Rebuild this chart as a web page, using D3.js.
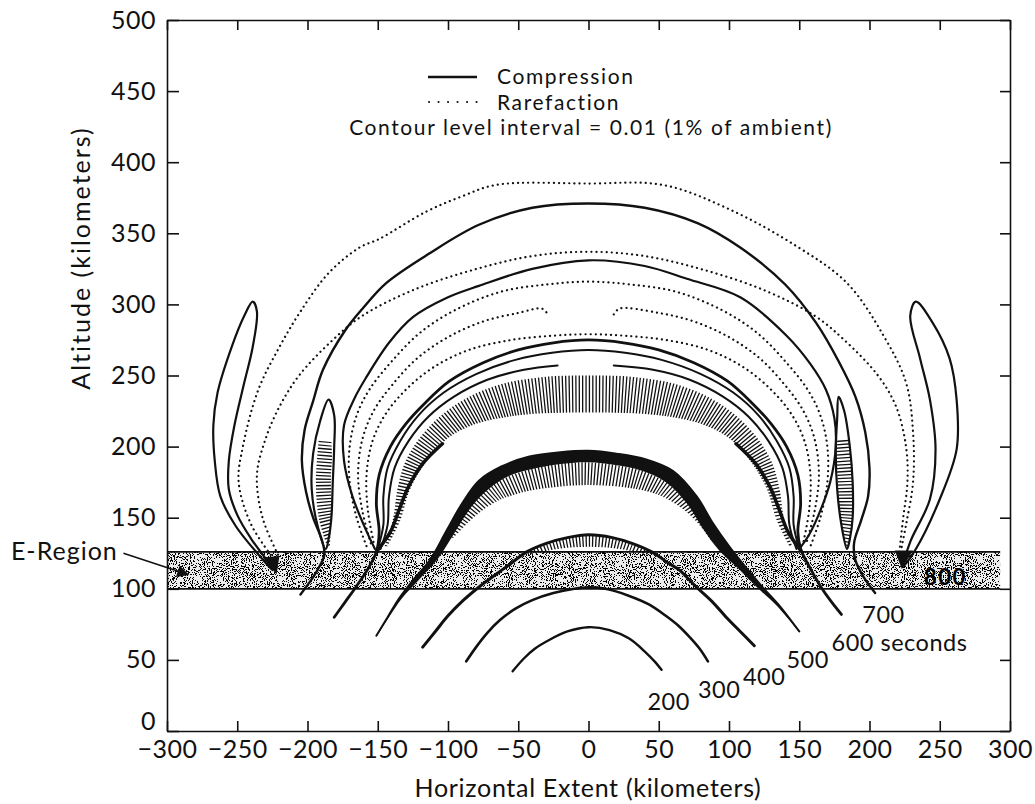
<!DOCTYPE html>
<html>
<head>
<meta charset="utf-8">
<script src="https://cdn.jsdelivr.net/npm/d3@7"></script>
<style>
  body { margin: 0; background: #fff; }
  svg { display: block; font-family: Lato, "Open Sans", sans-serif; }
  .axis text { font-size: 25px; fill: #111; font-family: Lato, "Open Sans", sans-serif; letter-spacing: 0.5px; }
  .axis path, .axis line { stroke: #111; stroke-width: 1.6; }
</style>
</head>
<body>
<script>
// tick values (km)
const xTicks = [-300, -250, -200, -150, -100, -50, 0, 50, 100, 150, 200, 250, 300];
const yTicks = [0, 50, 100, 150, 200, 250, 300, 350, 400, 450, 500];

// E-region layer (km): left, right, bottom, top
const eRegion = [-300, 293, 100, 126];

// wavefronts below / through the E-region, [horizontal km, altitude km]
const wave200 = [[-54,42],[-46,51],[-38,58],[-28,64],[-15,70],[0,73],[15,71],[29,65],[41,55],[47,49],[52,43]];
const wave300 = [[-87,49],[-80,59],[-72,69],[-63,78],[-52,86],[-40,92],[-25,97],[-10,100],[0,101],[12,100],[29,95],[43,89],[55,81],[64,74],[72,66],[79,58],[85,49]];
const wave400 = [[-118,59],[-109,70],[-100,81],[-89,92],[-77,102],[-66,110],[-55,118],[-44,126],[-30,132],[-15,136],[0,138],[17,136],[31,132],[45,126],[57,118],[65,113],[76,102],[88,91],[98,80],[108,70],[118,60]];
const wave500 = [[-151,67],[-143,80],[-135,93],[-125,106],[-113,120],[-101,141],[-90,160],[-78,176],[-62,186],[-42,193],[-20,196],[0,197],[20,195],[41,191],[60,183],[77,165],[88,147],[100,130],[112,115],[124,101],[136,88],[150,70]];
const wave500Inner = [[-150.5,67],[-142,80],[-133,93],[-121,106],[-108,120],[-95,140],[-83,158],[-70,171],[-55,180],[-37,185],[-18,188],[0,189],[19,187],[38,183],[55,175],[70,160],[81,143],[93,127],[107,114],[121,100],[134,88],[149.5,70]];

// 600 s bundle
const wave600a = [[-181,80],[-173,91],[-165,102],[-157,114],[-151,126],[-149,140],[-151,160],[-149,180],[-141,200],[-130,216],[-117,230],[-99,246],[-75,259],[-50,268],[-25,273],[0,275],[25,273],[50,268],[75,259],[99,246],[117,230],[130,216],[141,200],[149,180],[151,160],[149,140],[151,128],[158,114],[165,102],[172,92],[180,82]];
const wave600b = [[-150,128],[-146,145],[-146,165],[-143,185],[-134,204],[-121,222],[-103,238],[-80,251],[-52,261],[-26,266],[0,268],[26,266],[52,261],[80,251],[103,238],[121,222],[134,204],[143,185],[146,165],[146,145],[150,128]];
const wave600cLeft = [[-148,128],[-143,145],[-142,165],[-138,185],[-128,204],[-114,221],[-96,235],[-72,247],[-46,254],[-22,257]];
const wave600cRight = [[18,257],[46,254],[72,247],[96,235],[114,221],[128,204],[138,185],[142,165],[143,145],[148,128]];
const wave600Foot = [[-151,126],[-141,140],[-135,155],[-128,172],[-118,188],[-104,202]];
const wave600FootR = [[151,127],[142,140],[136,155],[129,172],[119,188],[105,202]];

// 700 s front and inner solid
const wave700 = [[-205,96],[-199,104],[-193,113],[-188,124],[-190,135],[-196,150],[-201,168],[-204,190],[-202,212],[-196,232],[-189,254],[-173,282],[-160,298],[-144,315],[-113,336],[-78,356],[-40,368],[0,371],[40,368],[78,357],[108,340],[140,314],[162,287],[178,260],[190,235],[197,210],[200,185],[199,165],[194,148],[189,132],[190,120],[196,108],[204,97]];
const inner331 = [[-152,128],[-160,145],[-168,165],[-174,190],[-174,215],[-166,235],[-158,249],[-142,273],[-125,291],[-100,305],[-78,313],[-40,325],[0,331],[40,327],[70,318],[108,305],[141,278],[158,258],[169,240],[175,220],[176,200],[172,175],[165,155],[157,138],[150,128]];

// closed side lobes
const lobe700L = [[-187,128],[-193,145],[-197,170],[-196,195],[-191,218],[-185,233],[-181,222],[-181,200],[-182,175],[-183,150],[-185,135]];
const lobe700R = [[184,128],[180,145],[177,170],[176,198],[177,220],[178,235],[182,225],[186,200],[188,175],[188,150],[186,135]];
const lobe800L = [[-225,113],[-234,123],[-251,144],[-262,165],[-266,190],[-267,215],[-264,238],[-254,270],[-245,292],[-239,302],[-236,295],[-239,270],[-245,245],[-252,215],[-256,190],[-256,170],[-250,152],[-240,135],[-229,120]];
const lobe800R = [[224,116],[233,128],[250,163],[262,198],[262,233],[257,262],[245,287],[233,302],[229,292],[236,262],[243,233],[247,198],[243,163],[229,133]];

// rarefaction contours
const rare385 = [[-224,121],[-240,145],[-249,175],[-246,200],[-235,240],[-220,270],[-205,295],[-185,322],[-163,340],[-149,346],[-116,365],[-90,376],[-66,384],[0,385],[53,384],[100,367],[148,341],[184,315],[210,278],[226,245],[231,210],[231,175],[226,145],[222,125]];
const rare337 = [[-221,124],[-232,150],[-236,180],[-230,205],[-220,228],[-206,250],[-182,275],[-161,292],[-125,310],[-83,324],[-40,334],[0,337],[40,334],[83,324],[125,310],[161,292],[182,275],[206,250],[219,228],[226,200],[227,175],[224,150],[221,124]];
const rare316 = [[-158,130],[-165,150],[-170,175],[-170,200],[-165,222],[-156,240],[-140,260],[-120,280],[-95,296],[-62,309],[-30,314],[0,316],[30,314],[62,309],[95,296],[120,280],[140,260],[156,240],[165,222],[170,200],[170,175],[165,150],[158,130]];
const rare297L = [[-155,132],[-161,155],[-164,180],[-161,205],[-153,225],[-140,243],[-122,262],[-100,277],[-75,288],[-50,294],[-33,297],[-29,293]];
const rare297R = [[18,293],[22,297],[50,294],[75,288],[100,277],[122,262],[140,243],[153,225],[161,205],[164,180],[161,155],[155,132]];
const rare279 = [[-153,133],[-157,155],[-158,180],[-154,203],[-145,222],[-130,240],[-110,256],[-85,268],[-55,275],[-25,278],[0,279],[25,278],[55,275],[85,268],[110,256],[130,240],[145,222],[154,203],[158,180],[157,155],[153,133]];

// hatched (closely packed) rarefaction bands: outer edge, inner edge
const band600Outer = [[-145,130],[-139,150],[-136,170],[-131,188],[-121,205],[-106,221],[-87,234],[-62,244],[-32,249],[0,250],[32,249],[62,244],[87,234],[106,221],[121,205],[131,188],[136,170],[139,150],[145,130]];
const band600Inner = [[-143,130],[-134,148],[-127,170],[-115,190],[-100,206],[-80,216],[-50,222],[0,224],[50,222],[80,216],[100,206],[115,190],[127,170],[134,148],[143,130]];
const band500Outer = [[-100,135],[-90,150],[-80,162],[-68,173],[-52,181],[-34,186],[-16,188.5],[0,189],[19,187],[38,183],[55,175],[68,163],[79,148],[90,132]];
const band500Inner = [[-96,136],[-82,150],[-68,160],[-50,167],[-28,171],[0,173],[28,171],[50,166],[66,157],[78,146],[88,133]];
const band400Outer = [[-46,125],[-30,132],[-15,136],[0,137.5],[17,136],[31,132],[46,125]];
const band400Inner = [[-42,124],[-22,128],[0,129.5],[22,128],[42,124]];
const band700LOuter = [[-186,130],[-192,150],[-194,175],[-192,205]];
const band700LInner = [[-184,130],[-183,150],[-182,175],[-183,205]];
const band700ROuter = [[185,130],[188,150],[188,175],[186,205]];
const band700RInner = [[183,130],[179,150],[177,175],[177,205]];

// arrowheads inside the E-region
const notchL = [[-232,122],[-220,123],[-222,110]];
const notchR = [[218,127],[231,127],[223,114]];

// time labels (seconds) at [km, km]
const timeLabels = [
  {text: '200', at: [57, 15], anchor: 'middle'},
  {text: '300', at: [93, 23], anchor: 'middle'},
  {text: '400', at: [125, 32], anchor: 'middle'},
  {text: '500', at: [156, 44], anchor: 'middle'},
  {text: '600 seconds', at: [173, 56], anchor: 'start'},
  {text: '700', at: [210, 76], anchor: 'middle'}
];
const label800 = {text: '800', at: [254, 103]};
const eRegionLabel = {text: 'E-Region', at: [-335, 120], arrowFrom: [-331, 125], arrowTo: [-285, 110]};

const W = 1035, H = 804;
const svg = d3.select('body').append('svg').attr('width', W).attr('height', H);

const x = d3.scaleLinear().domain([-300, 300]).range([167, 1010]);
const y = d3.scaleLinear().domain([0, 500]).range([731, 20]);

const line = d3.line().x(d => x(d[0])).y(d => y(d[1])).curve(d3.curveCatmullRom.alpha(0.5));
const loop = d3.line().x(d => x(d[0])).y(d => y(d[1])).curve(d3.curveCatmullRomClosed.alpha(0.5));
const region = (a, b) => line(a) + line(b.slice().reverse()).replace(/^M/, 'L') + 'Z';

const defs = svg.append('defs');

// stippled fill for the E-region
const st = defs.append('filter').attr('id', 'stipple')
  .attr('x', 0).attr('y', 0).attr('width', 1).attr('height', 1)
  .attr('color-interpolation-filters', 'sRGB');
st.append('feTurbulence').attr('type', 'fractalNoise').attr('baseFrequency', 0.95)
  .attr('numOctaves', 2).attr('seed', 4).attr('result', 'noise');
st.append('feColorMatrix').attr('in', 'noise').attr('type', 'matrix')
  .attr('values', '0 0 0 0 0  0 0 0 0 0  0 0 0 0 0  -3 0 0 0 1.82').attr('result', 'dots');
st.append('feComponentTransfer').attr('in', 'dots').attr('result', 'bin')
  .append('feFuncA').attr('type', 'discrete').attr('tableValues', '0 1');
st.append('feComposite').attr('in', 'bin').attr('in2', 'SourceGraphic').attr('operator', 'in');

const [eL, eR, eB, eT] = eRegion;
svg.append('rect')
  .attr('x', x(eL)).attr('y', y(eT)).attr('width', x(eR) - x(eL)).attr('height', y(eB) - y(eT))
  .attr('fill', '#ececec');
svg.append('rect')
  .attr('x', x(eL)).attr('y', y(eT)).attr('width', x(eR) - x(eL)).attr('height', y(eB) - y(eT))
  .attr('fill', '#000').attr('filter', 'url(#stipple)');
[eB, eT].forEach(v => {
  svg.append('line').attr('x1', x(eL)).attr('x2', x(eR)).attr('y1', y(v)).attr('y2', y(v))
    .attr('stroke', '#111').attr('stroke-width', 1.8);
});

const marks = svg.append('g');

// hatched bands: thick dashed stroke along the outer edge, clipped to the band
let clipId = 0;
function hatch(outer, inner, width) {
  const id = 'band' + (clipId++);
  defs.append('clipPath').attr('id', id).append('path').attr('d', region(outer, inner));
  marks.append('path').attr('d', line(outer))
    .attr('fill', 'none').attr('stroke', '#111').attr('stroke-width', width)
    .attr('stroke-dasharray', '1.3 2.1').attr('clip-path', `url(#${id})`);
}
hatch(band600Outer, band600Inner, 80);
hatch(band500Outer, band500Inner, 50);
hatch(band400Outer, band400Inner, 30);
hatch(band700LOuter, band700LInner, 30);
hatch(band700ROuter, band700RInner, 30);

// rarefaction (dotted)
const dotted = [rare385, rare337, rare316, rare297L, rare297R, rare279];
marks.selectAll('path.rare').data(dotted).enter().append('path')
  .attr('class', 'rare').attr('d', line)
  .attr('fill', 'none').attr('stroke', '#111').attr('stroke-width', 2.2)
  .attr('stroke-linecap', 'round').attr('stroke-dasharray', '0.1 5');

// compression (solid)
const solid = [
  {pts: wave200, w: 2.4}, {pts: wave300, w: 2.6}, {pts: wave400, w: 3},
  {pts: wave500, w: 2}, {pts: wave600a, w: 2.8}, {pts: wave600b, w: 2},
  {pts: wave600cLeft, w: 2}, {pts: wave600cRight, w: 2},
  {pts: wave600Foot, w: 3.5}, {pts: wave600FootR, w: 3.5},
  {pts: wave700, w: 2.4}, {pts: inner331, w: 2.2}
];
marks.selectAll('path.comp').data(solid).enter().append('path')
  .attr('class', 'comp').attr('d', d => line(d.pts))
  .attr('fill', 'none').attr('stroke', '#111').attr('stroke-width', d => d.w)
  .attr('stroke-linejoin', 'round').attr('stroke-linecap', 'round');

// 500 s front drawn as a solid black band
marks.append('path').attr('d', region(wave500, wave500Inner)).attr('fill', '#111');

marks.selectAll('path.lobe').data([lobe700L, lobe700R, lobe800L, lobe800R]).enter().append('path')
  .attr('class', 'lobe').attr('d', loop)
  .attr('fill', 'none').attr('stroke', '#111').attr('stroke-width', 2.2);

marks.selectAll('path.notch').data([notchL, notchR]).enter().append('path')
  .attr('class', 'notch')
  .attr('d', d => 'M' + d.map(p => x(p[0]) + ',' + y(p[1])).join('L') + 'Z')
  .attr('fill', '#111');

// axes on all four sides, ticks pointing inward
svg.append('g').attr('class', 'axis').attr('transform', `translate(0,${y(0)})`)
  .call(d3.axisBottom(x).tickValues(xTicks).tickSize(-10).tickSizeOuter(0).tickPadding(9)
    .tickFormat(d => d < 0 ? '\u2212' + Math.abs(d) : d));
svg.append('g').attr('class', 'axis').attr('transform', `translate(0,${y(500)})`)
  .call(d3.axisTop(x).tickValues(xTicks).tickSize(-10).tickSizeOuter(0).tickFormat(''));
const yAxis = svg.append('g').attr('class', 'axis').attr('transform', `translate(${x(-300)},0)`)
  .call(d3.axisLeft(y).tickValues(yTicks).tickSize(-12).tickSizeOuter(0).tickPadding(11));
// lift the zero label clear of the horizontal labels
yAxis.selectAll('.tick').filter(d => d === 0).select('text').attr('dy', '-0.05em');
svg.append('g').attr('class', 'axis').attr('transform', `translate(${x(300)},0)`)
  .call(d3.axisRight(y).tickValues(yTicks).tickSize(-10).tickSizeOuter(0).tickFormat(''));

// axis titles
svg.append('text').attr('x', 588).attr('y', 797).attr('text-anchor', 'middle')
  .attr('font-size', 25).attr('letter-spacing', 0.7).attr('fill', '#111').text('Horizontal Extent (kilometers)');
svg.append('text').attr('transform', 'translate(90,258) rotate(-90)').attr('text-anchor', 'middle')
  .attr('font-size', 25).attr('letter-spacing', 2).attr('fill', '#111').text('Altitude (kilometers)');

// time labels
svg.selectAll('text.time').data(timeLabels).enter().append('text')
  .attr('class', 'time').attr('x', d => x(d.at[0])).attr('y', d => y(d.at[1]))
  .attr('text-anchor', d => d.anchor).attr('font-size', 23.5).attr('letter-spacing', 0.5).attr('fill', '#111')
  .text(d => d.text);
svg.append('text').attr('x', x(label800.at[0])).attr('y', y(label800.at[1]))
  .attr('text-anchor', 'middle').attr('font-size', 22).attr('font-weight', 'bold')
  .attr('letter-spacing', 1.5).attr('fill', '#000').text(label800.text);

// E-region callout
svg.append('text').attr('x', x(eRegionLabel.at[0])).attr('y', y(eRegionLabel.at[1]))
  .attr('text-anchor', 'end').attr('font-size', 25).attr('letter-spacing', 1).attr('fill', '#111').text(eRegionLabel.text);
defs.append('marker').attr('id', 'head').attr('viewBox', '0 0 10 10').attr('refX', 9).attr('refY', 5)
  .attr('markerWidth', 18).attr('markerHeight', 12).attr('markerUnits', 'userSpaceOnUse').attr('orient', 'auto')
  .append('path').attr('d', 'M0,0L10,5L0,10Z').attr('fill', '#111');
svg.append('line')
  .attr('x1', x(eRegionLabel.arrowFrom[0])).attr('y1', y(eRegionLabel.arrowFrom[1]))
  .attr('x2', x(eRegionLabel.arrowTo[0])).attr('y2', y(eRegionLabel.arrowTo[1]))
  .attr('stroke', '#111').attr('stroke-width', 1.5).attr('marker-end', 'url(#head)');

// legend
const legend = svg.append('g').attr('fill', '#111').attr('font-size', 21).attr('letter-spacing', 1.6);
legend.append('line').attr('x1', 428).attr('x2', 477).attr('y1', 77).attr('y2', 77)
  .attr('stroke', '#111').attr('stroke-width', 2.5);
legend.append('text').attr('x', 497).attr('y', 84).text('Compression');
legend.append('line').attr('x1', 429).attr('x2', 477).attr('y1', 102).attr('y2', 102)
  .attr('stroke', '#111').attr('stroke-width', 2).attr('stroke-linecap', 'round').attr('stroke-dasharray', '0.1 9.4');
legend.append('text').attr('x', 497).attr('y', 109.5).text('Rarefaction');
legend.append('text').attr('x', 591).attr('y', 135).attr('text-anchor', 'middle')
  .text('Contour level interval = 0.01 (1% of ambient)');
</script>
</body>
</html>
